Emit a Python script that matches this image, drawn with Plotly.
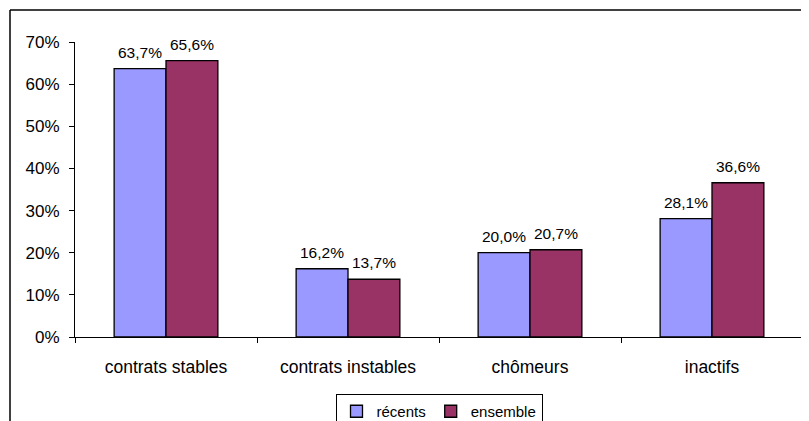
import plotly.graph_objects as go

categories = ["contrats stables", "contrats instables", "chômeurs", "inactifs"]
recents = [63.7, 16.2, 20.0, 28.1]
ensemble = [65.6, 13.7, 20.7, 36.6]
series_names = ["récents", "ensemble"]
y_ticks = [0, 10, 20, 30, 40, 50, 60, 70]

def fmt(v):
    return f"{v:.1f}".replace(".", ",") + "%"

FONT = "Liberation Sans, Arial, sans-serif"

fig = go.Figure()
fig.add_trace(go.Bar(
    x=categories, y=recents, name=series_names[0],
    marker=dict(color="#9999FF", line=dict(color="black", width=1.3)),
))
fig.add_trace(go.Bar(
    x=categories, y=ensemble, name=series_names[1],
    marker=dict(color="#993366", line=dict(color="black", width=1.3)),
))

# page body has an 8px margin: compensate so the drawing lands as in the reference
OFF = 8
W, H = 809 - OFF, 421 - OFF
L, T = 75 - OFF, 42 - OFF
R = W - (803 - OFF)
B = H - (337 - OFF)
pw, ph = W - L - R, H - T - B

def px_x(p):
    return (p - OFF - L) / pw

def px_y(p):
    return (H - B - (p - OFF)) / ph

BAR_HALF = 26
annotations = []
for vals, sh in ((recents, -BAR_HALF), (ensemble, BAR_HALF)):
    for c, v in zip(categories, vals):
        annotations.append(dict(
            x=c, y=v, xref="x", yref="y", text=fmt(v), showarrow=False,
            xanchor="center", yanchor="bottom", xshift=sh, yshift=6,
            font=dict(size=15.5, color="black", family=FONT),
        ))

fig.update_layout(
    width=W, height=H,
    margin=dict(l=L, r=R, t=T, b=B, autoexpand=False),
    paper_bgcolor="white", plot_bgcolor="white",
    font=dict(family=FONT, size=17, color="black"),
    barmode="group", bargap=0.43, bargroupgap=0,
    showlegend=True,
    legend=dict(
        orientation="h", x=0.5, xanchor="center", y=px_y(394), yanchor="top",
        bordercolor="black", borderwidth=1, bgcolor="white",
        font=dict(size=15, family=FONT), tracegroupgap=0,
        itemwidth=30,
    ),
    annotations=annotations,
    shapes=[
        dict(type="line", xref="paper", yref="paper",
             x0=px_x(10), x1=px_x(809), y0=px_y(10), y1=px_y(10),
             line=dict(color="black", width=1.5)),
        dict(type="line", xref="paper", yref="paper",
             x0=px_x(10), x1=px_x(10), y0=px_y(10), y1=px_y(421),
             line=dict(color="black", width=1.5)),
    ],
)
fig.update_xaxes(
    showline=True, linecolor="black", linewidth=1,
    ticks="outside", ticklen=5, tickcolor="black", tickson="boundaries",
    ticklabelstandoff=14, showgrid=False, automargin=False,
    tickfont=dict(size=17.5, family=FONT),
)
fig.update_yaxes(
    range=[0, 70], tickmode="array", tickvals=y_ticks,
    ticktext=[f"{v}%" for v in y_ticks],
    showline=True, linecolor="black", linewidth=1,
    ticks="outside", ticklen=5, tickcolor="black",
    showgrid=False, zeroline=False, ticklabelstandoff=6, automargin=False,
    tickfont=dict(size=17, family=FONT),
)

fig.write_html("out.html")
